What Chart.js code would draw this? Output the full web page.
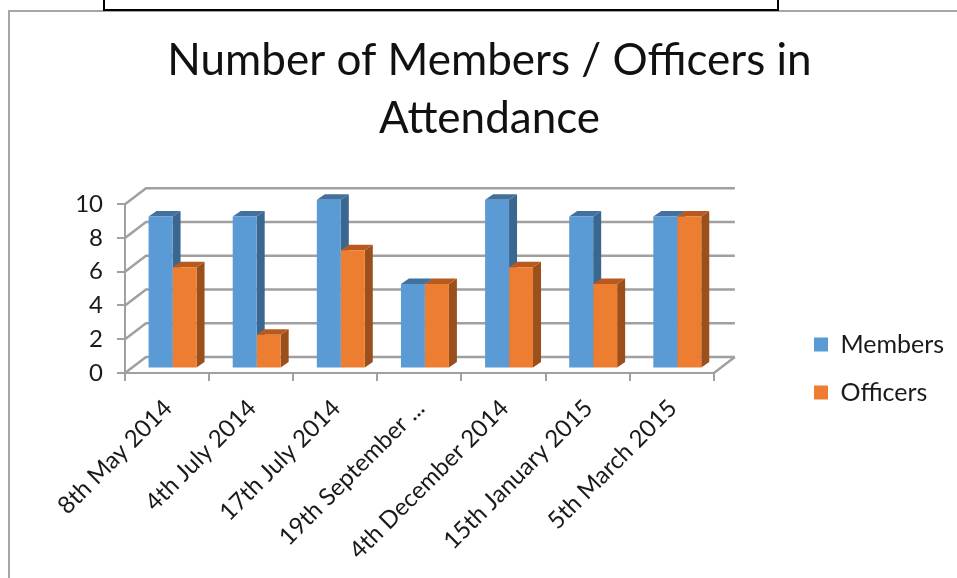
<!DOCTYPE html>
<html>
<head>
<meta charset="utf-8">
<script src="https://cdn.jsdelivr.net/npm/chart.js@4"></script>
<style>
    html, body { margin: 0; padding: 0; background: #fff; overflow: hidden; }
    #wrap { position: relative; width: 957px; height: 578px; }
    #frame { position: absolute; left: 8px; top: 10px; width: 960px; height: 580px; border: 2px solid #a6a6a6; }
    #note-box { position: absolute; left: 103px; top: -5px; width: 672px; height: 12px; border: 2px solid #000; background: #fff; }
    #chart { position: absolute; left: 0; top: 0; }
</style>
</head>
<body>
<div id="wrap">
    <div id="frame"></div>
    <div id="note-box"></div>
    <canvas id="chart" width="957" height="578"></canvas>
</div>
<script>
const categories = ['8th May 2014', '4th July 2014', '17th July 2014', '19th September ...', '4th December 2014', '15th January 2015', '5th March 2015'];
const members = [9, 9, 10, 5, 10, 9, 9];
const officers = [6, 2, 7, 5, 6, 5, 9];
const titleLines = ['Number of Members / Officers in', 'Attendance'];

const FONT = 'Lato, Carlito, sans-serif';
const GRID = '#a0a0a0';
// 3d look: wall depth and bar depth in px
const WALL_DX = 21, WALL_DY = -16;
const BAR_DX = 8, BAR_DY = -5.5;
const BAR_SHIFT_X = 5.5, BAR_SHIFT_Y = -4.5;

const faceColors = [
    { side: '#3a6790', top: '#41719c' },
    { side: '#9b4f1b', top: '#b85a1f' }
];

function poly(ctx, pts, color) {
    ctx.fillStyle = color;
    ctx.beginPath();
    pts.forEach((p, i) => i ? ctx.lineTo(p[0], p[1]) : ctx.moveTo(p[0], p[1]));
    ctx.closePath();
    ctx.fill();
}

const walls3d = {
    id: 'walls3d',
    afterLayout(chart) {
        // move title and legend to where the original has them
        chart.titleBlock.left = 22;
        chart.titleBlock.right = 957;
        const lg = chart.legend;
        const pad = lg.options.labels.padding;
        lg.left = 814 - pad;
        lg.right = 957;
        lg.top = 332 - pad;
        lg.bottom = 578;
    },
    beforeDatasetsDraw(chart) {
        const { ctx, scales: { x, y } } = chart;
        const left = x.left, right = x.right, bottom = y.bottom;
        ctx.save();
        ctx.strokeStyle = GRID;
        ctx.lineWidth = 2.5;
        ctx.beginPath();
        // back wall lines + left wall diagonals
        y.ticks.forEach(t => {
            const py = y.getPixelForValue(t.value);
            ctx.moveTo(left, py);
            ctx.lineTo(left + WALL_DX, py + WALL_DY);
            ctx.lineTo(right + WALL_DX, py + WALL_DY);
        });
        // right edge of floor
        ctx.moveTo(right, bottom);
        ctx.lineTo(right + WALL_DX, bottom + WALL_DY);
        ctx.stroke();
        ctx.restore();

        // bar sides and tops go under the fronts
        ctx.save();
        ctx.translate(BAR_SHIFT_X, BAR_SHIFT_Y);
        chart.data.datasets.forEach((ds, i) => {
            chart.getDatasetMeta(i).data.forEach(bar => {
                const r = bar.x + bar.width / 2, l = bar.x - bar.width / 2;
                poly(ctx, [[r, bar.y], [r + BAR_DX, bar.y + BAR_DY], [r + BAR_DX, bar.base + BAR_DY], [r, bar.base]], faceColors[i].side);
                poly(ctx, [[l, bar.y], [l + BAR_DX, bar.y + BAR_DY], [r + BAR_DX, bar.y + BAR_DY], [r, bar.y]], faceColors[i].top);
            });
        });
        ctx.restore();

        // shift for the fronts, undone in afterDatasetsDraw
        ctx.save();
        ctx.translate(BAR_SHIFT_X, BAR_SHIFT_Y);
    },
    afterDatasetsDraw(chart) {
        chart.ctx.restore();
    }
};

new Chart(document.getElementById('chart'), {
    type: 'bar',
    data: {
        labels: categories,
        datasets: [
            { label: 'Members', data: members, backgroundColor: '#5b9bd5' },
            { label: 'Officers', data: officers, backgroundColor: '#ed7d31' }
        ]
    },
    options: {
        responsive: false,
        animation: false,
        layout: { padding: { left: 0, right: 80, top: 0, bottom: 0 } },
        datasets: { bar: { categoryPercentage: 0.57, barPercentage: 1 } },
        plugins: {
            tooltip: { enabled: false },
            title: {
                display: true,
                text: titleLines,
                color: '#111',
                font: { family: FONT, size: 44, weight: 'normal', lineHeight: 1.32 },
                padding: { top: 32, bottom: 56 }
            },
            legend: {
                position: 'right',
                align: 'start',
                labels: {
                    color: '#1a1a1a',
                    font: { family: FONT, size: 25 },
                    boxWidth: 14,
                    boxHeight: 14,
                    padding: 23
                }
            }
        },
        scales: {
            x: {
                afterFit(s) { s.height = 205; },
                grid: { drawOnChartArea: false, tickLength: 8, color: GRID, lineWidth: 2 },
                border: { color: GRID, width: 2 },
                ticks: {
                    color: '#1a1a1a',
                    font: { family: FONT, size: 24 },
                    minRotation: 45,
                    maxRotation: 45,
                    autoSkip: false,
                    labelOffset: 1,
                    padding: 13
                }
            },
            y: {
                min: 0,
                max: 10,
                afterFit(s) { s.width = 125; },
                grid: { drawOnChartArea: false, tickLength: 8, color: GRID, lineWidth: 2 },
                border: { color: GRID, width: 2 },
                ticks: {
                    stepSize: 2,
                    color: '#1a1a1a',
                    font: { family: FONT, size: 24 },
                    padding: 14
                }
            }
        }
    },
    plugins: [walls3d]
});
</script>
</body>
</html>
